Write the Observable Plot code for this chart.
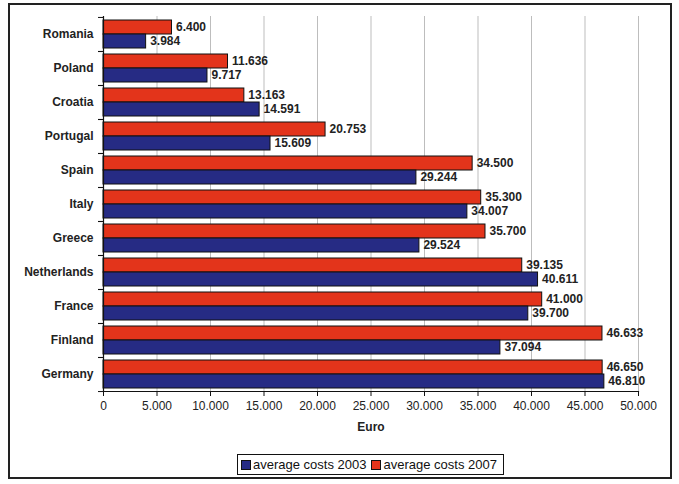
<!DOCTYPE html>
<html>
<head>
<meta charset="utf-8">
<script src="https://cdn.jsdelivr.net/npm/d3@7"></script>
<script src="https://cdn.jsdelivr.net/npm/@observablehq/plot@0.6"></script>
<style>
  html, body { margin: 0; padding: 0; background: #fff; }
  body { width: 679px; height: 484px; position: relative; overflow: hidden; font-family: "Liberation Sans", Arial, sans-serif; }
  #chart { position: absolute; left: 0; top: 0; }
  #border { position: absolute; left: 8px; top: 3px; width: 664px; height: 476px; box-sizing: border-box; border: 2px solid #222; pointer-events: none; }
  #legend { position: absolute; left: 237px; top: 454px; width: 267px; height: 21px; box-sizing: border-box; border: 1px solid #111; display: flex; align-items: center; font-size: 13px; color: #111; white-space: nowrap; }
  .item { display: flex; align-items: center; margin-left: 3px; margin-right: 2px; }
  .sw { width: 10px; height: 10px; margin-right: 2px; border: 1px solid #111; box-sizing: border-box; }
</style>
</head>
<body>
<div id="chart"></div>
<div id="border"></div>
<div id="legend"></div>
<script>
const countries = ["Romania", "Poland", "Croatia", "Portugal", "Spain", "Italy", "Greece", "Netherlands", "France", "Finland", "Germany"];
const costs2007 = [6400, 11636, 13163, 20753, 34500, 35300, 35700, 39135, 41000, 46633, 46650];
const costs2003 = [3984, 9717, 14591, 15609, 29244, 34007, 29524, 40611, 39700, 37094, 46810];
const xTicks = [0, 5000, 10000, 15000, 20000, 25000, 30000, 35000, 40000, 45000, 50000];
const seriesNames = ["average costs 2003", "average costs 2007"];
const seriesColors = ["#262b84", "#e3341b"];

const fmt = d3.formatLocale({decimal: ",", thousands: ".", grouping: [3], currency: ["", "€"]}).format(",d");

const d07 = countries.map((c, i) => ({country: c, value: costs2007[i]}));
const d03 = countries.map((c, i) => ({country: c, value: costs2003[i]}));

const chart = Plot.plot({
  width: 679,
  height: 445,
  marginLeft: 103,
  marginRight: 41,
  marginTop: 16,
  marginBottom: 54,
  style: {fontFamily: "Liberation Sans, Arial, sans-serif", fontSize: "12px", color: "#222", background: "transparent"},
  x: {domain: [0, 50000], ticks: xTicks, tickFormat: fmt},
  y: {domain: countries, padding: 0},
  marks: [
    Plot.gridX(xTicks, {stroke: "#bdbdbd", strokeOpacity: 1, strokeWidth: 1}),
    Plot.barX(d07, {y: "country", x: "value", fill: seriesColors[1], stroke: "#111", strokeWidth: 1, insetTop: 3, insetBottom: 17}),
    Plot.barX(d03, {y: "country", x: "value", fill: seriesColors[0], stroke: "#111", strokeWidth: 1, insetTop: 17, insetBottom: 3}),
    Plot.text(d07, {y: "country", x: "value", text: d => fmt(d.value), dx: 4, dy: -7, textAnchor: "start", fontWeight: "bold", fontSize: 12, fill: "#222"}),
    Plot.text(d03, {y: "country", x: "value", text: d => fmt(d.value), dx: 4, dy: 7, textAnchor: "start", fontWeight: "bold", fontSize: 12, fill: "#222"}),
    Plot.ruleX([0], {stroke: "#111", strokeWidth: 1.2}),
    Plot.frame({anchor: "bottom", stroke: "#111", strokeWidth: 1.2}),
    Plot.axisX({ticks: xTicks, tickFormat: fmt, tickSize: 5, tickPadding: 5, label: null, stroke: "#111", fill: "#222"}),
    Plot.text(["Euro"], {frameAnchor: "bottom", dy: 39, fontWeight: "bold", fontSize: 12, fill: "#222"}),
    Plot.axisY({tickSize: 0, tickPadding: 10, fontWeight: "bold", fontSize: 12, fill: "#222", label: null}),
    Plot.axisY({tickSize: 5, tickFormat: () => "", dy: -17.05, label: null, stroke: "#111"}),
    Plot.axisY({tickSize: 5, tickFormat: () => "", dy: 17.05, label: null, stroke: "#111"})
  ]
});
document.getElementById("chart").appendChild(chart);

const legend = document.getElementById("legend");
seriesNames.forEach((name, i) => {
  const item = document.createElement("div");
  item.className = "item";
  const sw = document.createElement("div");
  sw.className = "sw";
  sw.style.background = seriesColors[i];
  item.appendChild(sw);
  const t = document.createElement("span");
  t.textContent = name;
  item.appendChild(t);
  legend.appendChild(item);
});
</script>
</body>
</html>
